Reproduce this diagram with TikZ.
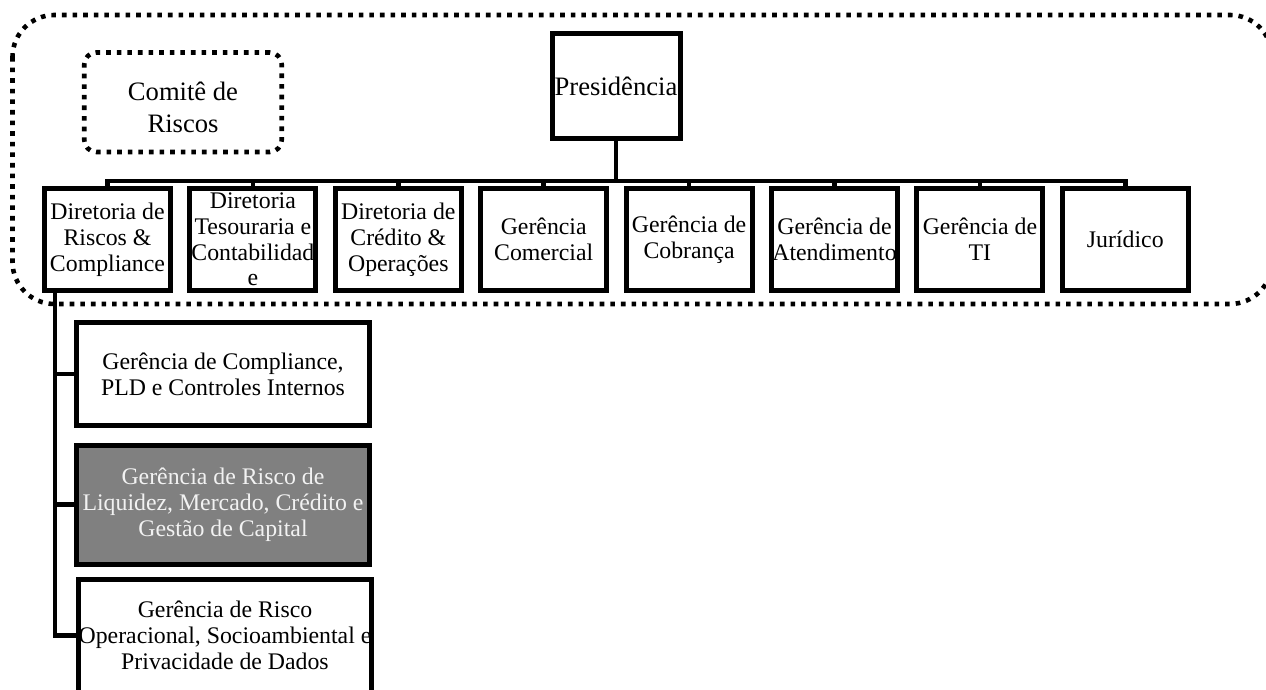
\documentclass[tikz,border=0pt]{standalone}
\usepackage{fontspec}
\setmainfont{Liberation Serif}
\usepackage{tikz}
\usetikzlibrary{calc}
\tikzstyle{unit}=[draw, line width=2.5pt, inner sep=0pt, align=center, font=\fontsize{11.9}{12.9}\selectfont]
\tikzstyle{dir}=[unit, minimum width=63pt, minimum height=51pt]
\tikzstyle{ger}=[unit, minimum width=146.5pt]
\tikzstyle{shaded}=[fill=gray, text=white!95!black]
\tikzstyle{conn}=[line width=2.3pt]
\tikzstyle{dotline}=[line width=2.3pt, dash pattern=on 2.3pt off 3pt]
\tikzstyle{top}=[font=\fontsize{13.3}{15.9}\selectfont]

\begin{document}
\begin{tikzpicture}[x=0.5pt, y=-0.5pt]
	\useasboundingbox (0,0) rectangle (1266,690);
%	outer frame
	\draw[dotline, rounded corners=21pt] (12.5,15) rectangle (1272,304);
%
	\node[unit, top, minimum width=64pt, minimum height=52.5pt] (pres) at (616,86.5) {Presidência};
	\node[draw, dotline, rounded corners=6pt, minimum width=98.75pt, minimum height=49.75pt] (comite) at (183,102.25) {};
	\node[top, align=center] (comitetxt) at (183,107) {Comitê de\\Riscos};
%
	\node[dir] (d1) at (107.5,239.5) {Diretoria de\\Riscos \&\\Compliance};
	\node[dir] (d2) at (252.9,239.5) {Diretoria\\Tesouraria e\\Contabilidad\\e};
	\node[dir] (d3) at (398.3,239.5) {Diretoria de\\Crédito \&\\Operações};
	\node[dir] (d4) at (543.7,239.5) {Gerência\\Comercial};
	\node[dir] (d5) at (689.1,239.5) {Gerência de\\Cobrança};
	\node[dir] (d6) at (834.5,239.5) {Gerência de\\Atendimento};
	\node[dir] (d7) at (979.9,239.5) {Gerência de\\TI};
	\node[dir] (d8) at (1125.3,239.5) {Jurídico};
%
	\coordinate (bar) at (616,181);
	\draw[conn] (pres.south) -- (bar);
	\foreach \n in {d1,d2,d3,d4,d5,d6,d7,d8}
		\draw[conn] (bar) -| (\n.north);
%
	\node[ger, minimum height=51pt] (gA) at (223,374) {Gerência de Compliance,\\PLD e Controles Internos};
	\node[ger, shaded, minimum height=59.5pt] (gB) at (223,504.5) {Gerência de Risco de\\Liquidez, Mercado, Crédito e\\Gestão de Capital};
	\node[ger, minimum height=56.5pt] (gC) at (225,635.5) {Gerência de Risco\\Operacional, Socioambiental e\\Privacidade de Dados};
%
	\coordinate (trunk) at (55,291);
	\foreach \n in {gA,gB,gC}
		\draw[conn] (trunk) |- (\n.west);
\end{tikzpicture}
\end{document}
